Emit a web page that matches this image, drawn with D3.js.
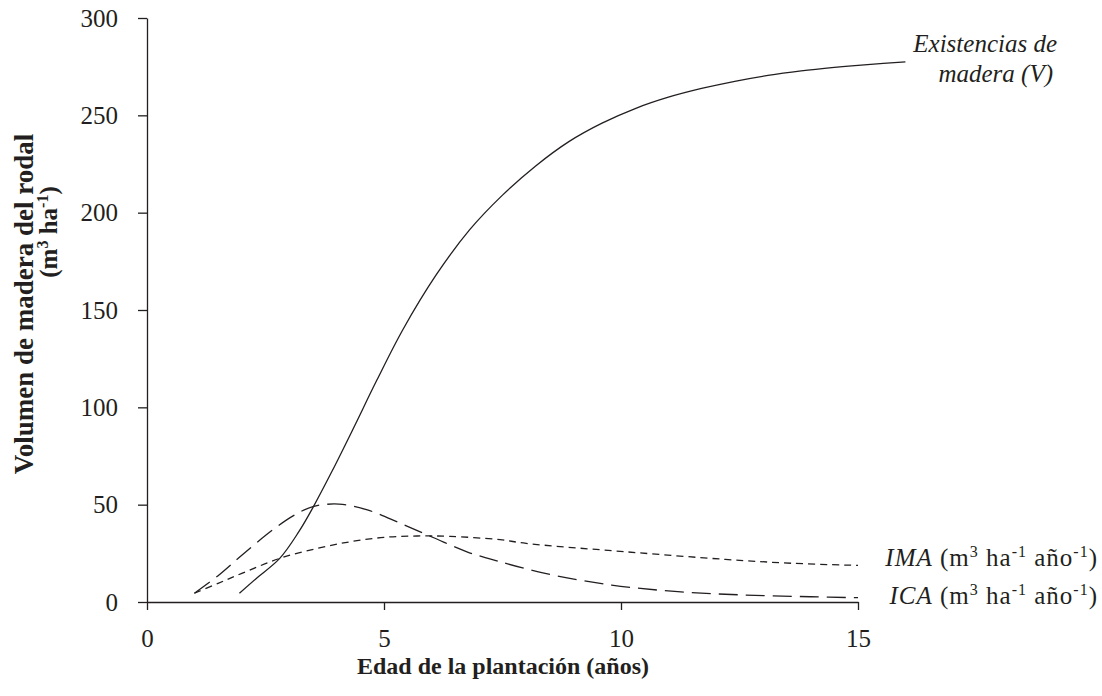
<!DOCTYPE html>
<html>
<head>
<meta charset="utf-8">
<script src="https://cdn.jsdelivr.net/npm/d3@7"></script>
<style>
  html, body { margin: 0; padding: 0; background: #fff; }
  svg { display: block; }
</style>
</head>
<body>
<svg id="chart" width="1102" height="696"></svg>
<script>
// ---- data ----
const xTicks = [0, 5, 10, 15];
const yTicks = [0, 50, 100, 150, 200, 250, 300];

const ageV = [1.95, 2.3, 2.8, 3.2, 3.5, 3.9, 4.35, 4.85, 5.4, 6.1, 6.8, 7.5, 8.2, 8.9, 9.6, 10.3, 11.0, 11.7, 12.4, 13.1, 13.8, 14.5, 15.2, 16.0];
const volV = [4.5, 12, 22.4, 36, 48.5, 67, 89, 114, 140, 168, 191, 209, 224, 236.5, 246, 253.5, 259.3, 263.8, 267.5, 270.5, 272.8, 274.6, 276.1, 277.5];

const ageICA = [1, 1.5, 2, 2.65, 3.1, 3.5, 4.05, 4.65, 5.35, 6.05, 6.75, 7.4, 8.4, 9.8, 11.2, 12.6, 14, 15];
const valICA = [4.5, 13.5, 24, 37, 44.5, 49, 50.3, 47.3, 40.4, 33, 25.8, 21, 14.7, 8.7, 5.3, 3.6, 2.7, 2.2];

const ageIMA = [1, 1.5, 2, 2.8, 3.6, 4.3, 5, 5.7, 6.4, 7.45, 8, 10.1, 12.2, 13.6, 15];
const valIMA = [4.5, 9.6, 14.7, 22.4, 27.6, 31, 33.2, 33.9, 33.7, 32, 30.1, 25.8, 21.9, 19.9, 18.8];

// ---- layout ----
const FONT = '"Liberation Serif", Tinos, "Times New Roman", serif';
const svg = d3.select("#chart");
const x = d3.scaleLinear().domain([0, 15]).range([147, 858]);
const y = d3.scaleLinear().domain([0, 300]).range([602, 18]);
const ink = "#231f20";

// axes
const xAxis = d3.axisBottom(x).tickValues(xTicks).tickSize(8).tickSizeOuter(0).tickPadding(19);
const gx = svg.append("g").attr("transform", `translate(0,${y(0)})`).call(xAxis);
gx.select(".domain").attr("stroke", ink).attr("stroke-width", 1.3);
gx.selectAll(".tick line").attr("stroke", ink).attr("stroke-width", 1.3);
gx.selectAll(".tick text").style("font-size", "25px").style("font-family", FONT).attr("fill", ink);

const yAxis = d3.axisLeft(y).tickValues(yTicks).tickSize(9).tickSizeOuter(0).tickPadding(20);
const gy = svg.append("g").attr("transform", `translate(${x(0)},0)`).call(yAxis);
gy.select(".domain").attr("stroke", ink).attr("stroke-width", 1.3);
gy.selectAll(".tick line").attr("stroke", ink).attr("stroke-width", 1.3);
gy.selectAll(".tick text").style("font-size", "25px").style("font-family", FONT).attr("fill", ink);

// lines
const mk = (xs, ys) => xs.map((a, i) => [a, ys[i]]);
const line = d3.line().x(d => x(d[0])).y(d => y(d[1])).curve(d3.curveCatmullRom.alpha(0.5));

svg.append("path").datum(mk(ageV, volV)).attr("d", line)
  .attr("fill", "none").attr("stroke", ink).attr("stroke-width", 1.3);
svg.append("path").datum(mk(ageICA, valICA)).attr("d", line)
  .attr("fill", "none").attr("stroke", ink).attr("stroke-width", 1.3)
  .attr("stroke-dasharray", "19,8");
svg.append("path").datum(mk(ageIMA, valIMA)).attr("d", line)
  .attr("fill", "none").attr("stroke", ink).attr("stroke-width", 1.3)
  .attr("stroke-dasharray", "7,5");

// series labels
const lab1 = svg.append("text").attr("text-anchor", "end").attr("fill", ink)
  .style("font-family", FONT).style("font-size", "25px").style("font-style", "italic");
lab1.append("tspan").attr("x", 1057).attr("y", 52).text("Existencias de");
lab1.append("tspan").attr("x", 1053).attr("y", 82).text("madera (V)");

function rateLabel(name, yy) {
  const t = svg.append("text").attr("x", 1098).attr("y", yy).attr("text-anchor", "end").attr("fill", ink)
    .style("font-family", FONT).style("font-size", "25px").style("letter-spacing", "1px");
  t.append("tspan").style("font-style", "italic").text(name);
  t.append("tspan").text(" (m");
  t.append("tspan").style("font-size", "16px").attr("dy", -9).text("3");
  t.append("tspan").attr("dy", 9).text(" ha");
  t.append("tspan").style("font-size", "16px").attr("dy", -9).text("-1");
  t.append("tspan").attr("dy", 9).text(" año");
  t.append("tspan").style("font-size", "16px").attr("dy", -9).text("-1");
  t.append("tspan").attr("dy", 9).text(")");
}
rateLabel("IMA", 566);
rateLabel("ICA", 604);

// axis titles
svg.append("text").attr("x", 503).attr("y", 674).attr("text-anchor", "middle").attr("fill", ink)
  .style("font-family", FONT).style("font-size", "24px").style("font-weight", "bold")
  .text("Edad de la plantación (años)");

svg.append("text").attr("transform", "translate(33,304) rotate(-90)").attr("text-anchor", "middle").attr("fill", ink)
  .style("font-family", FONT).style("font-size", "27px").style("font-weight", "bold")
  .text("Volumen de madera del rodal");

const yt2 = svg.append("text").attr("transform", "translate(57,232) rotate(-90)").attr("text-anchor", "middle").attr("fill", ink)
  .style("font-family", FONT).style("font-size", "25px").style("font-weight", "bold");
yt2.append("tspan").text("(m");
yt2.append("tspan").style("font-size", "16px").attr("dy", -9).text("3");
yt2.append("tspan").attr("dy", 9).text(" ha");
yt2.append("tspan").style("font-size", "16px").attr("dy", -9).text("-1");
yt2.append("tspan").attr("dy", 9).text(")");
</script>
</body>
</html>
